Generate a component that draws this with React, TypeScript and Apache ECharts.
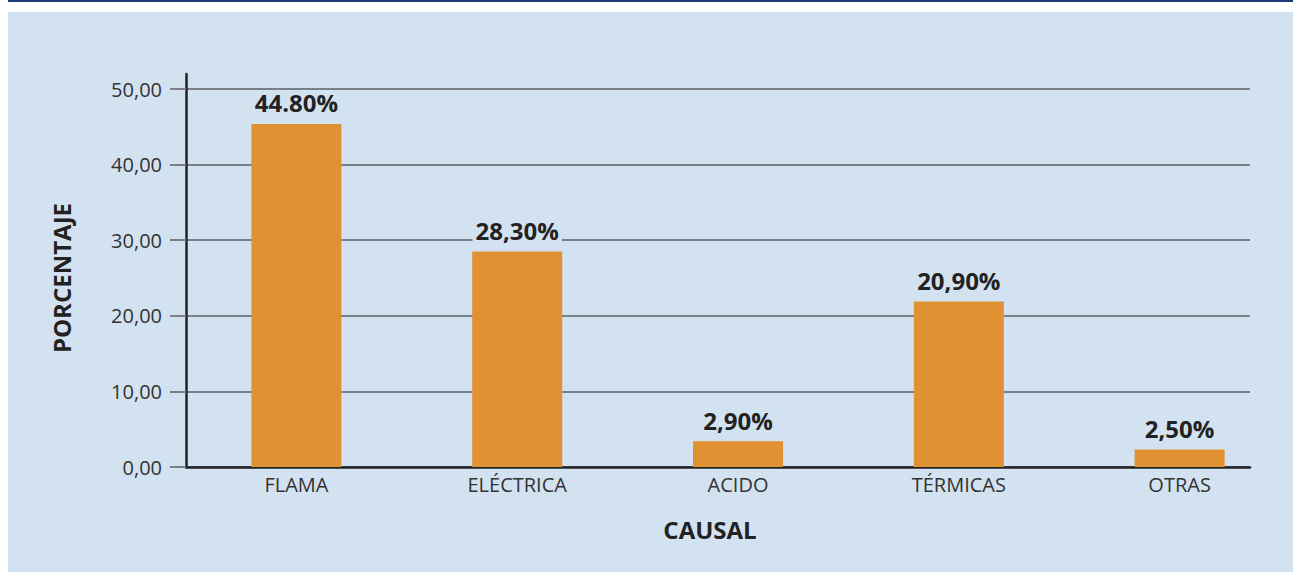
import React, { useEffect, useRef } from "react";
import * as echarts from "echarts";

const categories = ["FLAMA", "ELÉCTRICA", "ACIDO", "TÉRMICAS", "OTRAS"];
const barValues = [45.4, 28.5, 3.4, 21.9, 2.3];
const barLabels = ["44.80%", "28,30%", "2,90%", "20,90%", "2,50%"];
const yTicks = [0, 10, 20, 30, 40, 50];

const PANEL = "#d3e2f1";
const FONT = "Open Sans";

export default function App() {
  const ref = useRef<HTMLDivElement>(null);
  useEffect(() => {
    if (!ref.current) return;
    const chart = echarts.init(ref.current, null, { renderer: "svg" });
    chart.setOption({
      animation: false,
      backgroundColor: "#ffffff",
      textStyle: { fontFamily: FONT },
      graphic: [
        { type: "rect", z: -10, silent: true, shape: { x: 8, y: 0, width: 1285, height: 2 }, style: { fill: "#1b3a78" } },
        { type: "rect", z: -10, silent: true, shape: { x: 8, y: 12, width: 1285, height: 560 }, style: { fill: PANEL } },
      ],
      grid: [
        { left: 186, right: 43, top: 89, bottom: 105 },
        { left: 186, right: 3, top: 74, bottom: 105 },
      ],
      xAxis: [
        {
          type: "value",
          gridIndex: 0,
          min: 0,
          max: 1,
          axisLabel: { show: false },
          axisTick: { show: false },
          splitLine: { show: false },
          axisLine: { show: true, lineStyle: { color: "#222222", width: 2.5 } },
          name: "CAUSAL",
          nameLocation: "middle",
          nameGap: 50,
          nameTextStyle: { fontFamily: FONT, fontWeight: "bold", fontSize: 24, color: "#222222", padding: [0, 16, 0, 0] },
        },
        {
          type: "category",
          gridIndex: 1,
          data: categories,
          axisLine: { show: false },
          axisTick: { show: false },
          axisLabel: { fontFamily: FONT, fontSize: 20, color: "#333333", margin: 7 },
        },
      ],
      yAxis: [
        {
          type: "value",
          gridIndex: 0,
          min: 0,
          max: 50,
          interval: 10,
          axisLine: { show: false },
          axisTick: { show: true, length: 16, lineStyle: { color: "#7a7f88", width: 2 } },
          splitLine: { show: true, lineStyle: { color: "#7a7f88", width: 1.8 } },
          axisLabel: {
            fontFamily: FONT,
            fontSize: 20,
            color: "#333333",
            margin: 24,
            formatter: (v: number) => (yTicks.includes(v) ? v.toFixed(2).replace(".", ",") : ""),
          },
          name: "PORCENTAJE",
          nameLocation: "middle",
          nameGap: 113,
          nameRotate: 90,
          nameTextStyle: { fontFamily: FONT, fontWeight: "bold", fontSize: 24, color: "#222222" },
        },
        {
          type: "value",
          gridIndex: 1,
          min: 0,
          max: 52,
          axisLine: { show: true, lineStyle: { color: "#222222", width: 2.5 } },
          axisTick: { show: false },
          axisLabel: { show: false },
          splitLine: { show: false },
        },
      ],
      series: [
        {
          type: "bar",
          xAxisIndex: 1,
          yAxisIndex: 1,
          data: barValues,
          barWidth: 90,
          itemStyle: { color: "#e09132" },
          label: {
            show: true,
            position: "top",
            distance: 9,
            fontFamily: FONT,
            fontWeight: "bold",
            fontSize: 24,
            color: "#222222",
            backgroundColor: PANEL,
            padding: [0, 3],
            formatter: (p: any) => barLabels[p.dataIndex],
          },
        },
      ],
    });
    return () => chart.dispose();
  }, []);
  return <div ref={ref} style={{ position: "fixed", left: 0, top: 0, width: 1293, height: 572 }} />;
}
